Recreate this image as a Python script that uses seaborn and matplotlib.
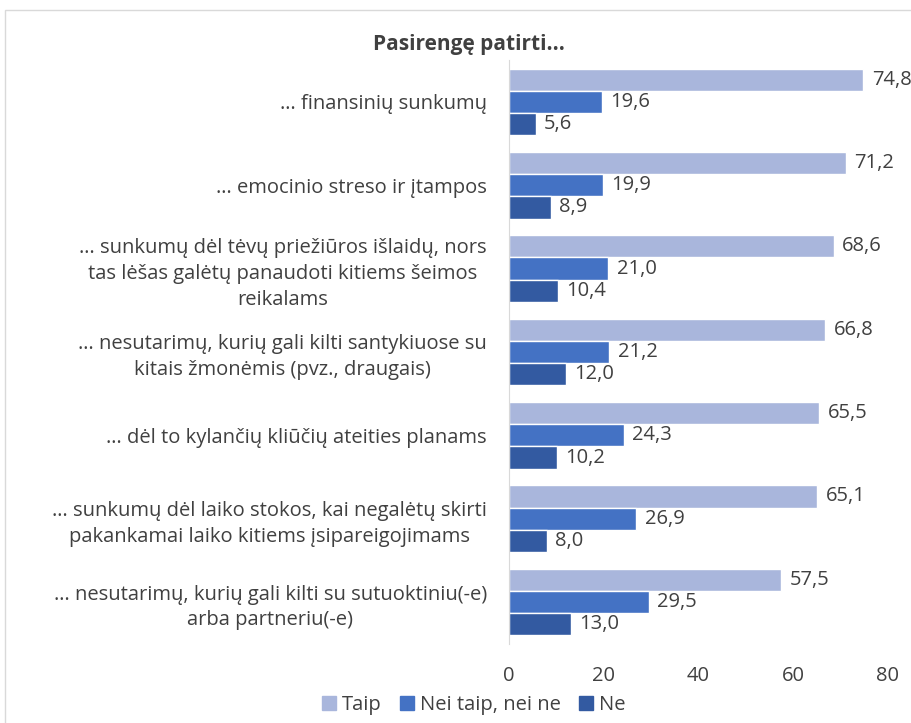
import pandas as pd
import numpy as np
import matplotlib
matplotlib.use("Agg")
import matplotlib.pyplot as plt
import seaborn as sns
from matplotlib.patches import Rectangle

# Data
categories = [
    "… finansinių sunkumų",
    "… emocinio streso ir įtampos",
    "… sunkumų dėl tėvų priežiūros išlaidų, nors\ntas lėšas galėtų panaudoti kitiems šeimos\nreikalams",
    "… nesutarimų, kurių gali kilti santykiuose su\nkitais žmonėmis (pvz., draugais)",
    "… dėl to kylančių kliūčių ateities planams",
    "… sunkumų dėl laiko stokos, kai negalėtų skirti\npakankamai laiko kitiems įsipareigojimams",
    "… nesutarimų, kurių gali kilti su sutuoktiniu(-e)\narba partneriu(-e)",
]
series_names = ["Taip", "Nei taip, nei ne", "Ne"]
taip = [74.8, 71.2, 68.6, 66.8, 65.5, 65.1, 57.5]
nei_taip_nei_ne = [19.6, 19.9, 21.0, 21.2, 24.3, 26.9, 29.5]
ne = [5.6, 8.9, 10.4, 12.0, 10.2, 8.0, 13.0]
x_ticks = [0, 20, 40, 60, 80]

colors = ["#A9B6DC", "#4472C4", "#335AA1"]
text_color = "#404040"
fs = 14.5

# Long format for seaborn
df = pd.DataFrame({
    "category": categories * 3,
    "series": [s for s in series_names for _ in categories],
    "value": taip + nei_taip_nei_ne + ne,
})

sns.set_style("white")
plt.rcParams["font.family"] = ["Open Sans", "DejaVu Sans"]

fig = plt.figure(figsize=(9.11, 7.23), dpi=100)
ax = fig.add_axes([0.5587, 0.1097, 0.416, 0.807])

sns.barplot(data=df, y="category", x="value", hue="series", order=categories,
            hue_order=series_names, palette=colors, orient="h", width=0.8,
            saturation=1, ax=ax, legend=False)

# value labels with decimal comma
for cont in ax.containers:
    labels = [f"{v:.1f}".replace(".", ",") for v in cont.datavalues]
    ax.bar_label(cont, labels=labels, padding=6, fontsize=fs, color=text_color)

ax.set_xlim(0, 80)
ax.set_xticks(x_ticks)
ax.set_ylim(6.5, -0.5)
ax.set_xlabel("")
ax.set_ylabel("")
ax.tick_params(axis="x", length=0, pad=16, labelsize=fs, labelcolor=text_color)
ax.tick_params(axis="y", length=0, pad=16, labelsize=fs, labelcolor=text_color)
for lbl in ax.get_yticklabels():
    lbl.set_multialignment("center")
    lbl.set_linespacing(1.38)

for side in ["top", "right", "bottom"]:
    ax.spines[side].set_visible(False)
ax.spines["left"].set_color("#D9D9D9")
ax.grid(False)

fig.text(0.515, 0.938, "Pasirengę patirti...", ha="center", va="center",
         fontsize=15, fontweight="bold", color=text_color)

# legend at the bottom
handles = [Rectangle((0, 0), 1, 1, color=c) for c in colors]
fig.legend(handles, series_names, loc="center", bbox_to_anchor=(0.52, 0.025),
           ncol=3, frameon=False, fontsize=fs, handlelength=0.7,
           handleheight=0.7, handletextpad=0.3, columnspacing=0.9,
           labelcolor=text_color)

# chart border
fig.patches.append(Rectangle((0.006, -0.01), 1.0, 0.996, transform=fig.transFigure,
                             fill=False, edgecolor="#D9D9D9", linewidth=1))

fig.savefig("out.png", dpi=100)
